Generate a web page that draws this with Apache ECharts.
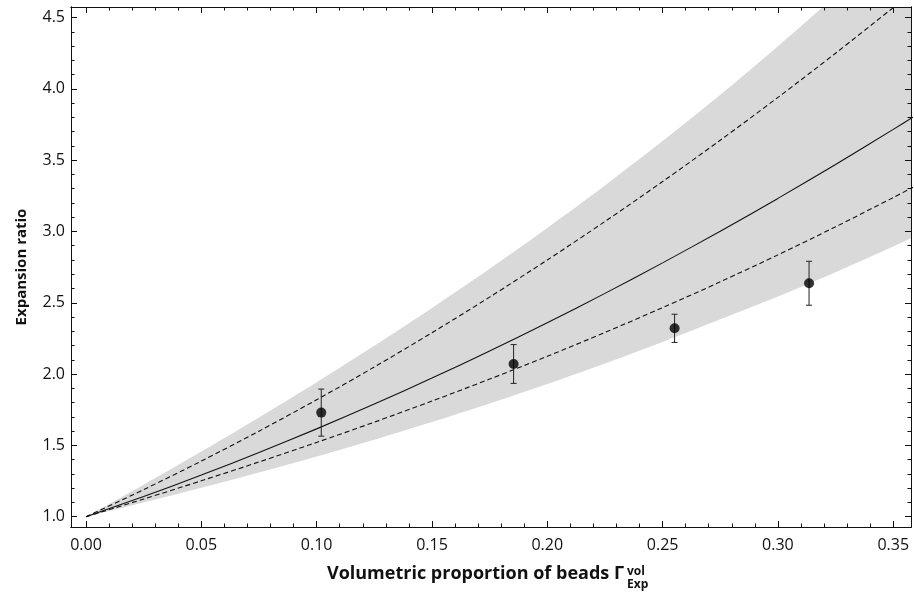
<!DOCTYPE html>
<html>
<head>
<meta charset="utf-8">
<script src="https://cdn.jsdelivr.net/npm/echarts@6/dist/echarts.min.js"></script>
<style>
  html, body { margin: 0; padding: 0; background: #fff; }
  #main { width: 914px; height: 598px; }
</style>
</head>
<body>
<div id="main"></div>
<script>
const xs = [0, 0.025, 0.05, 0.075, 0.1, 0.125, 0.15, 0.175, 0.2, 0.225, 0.25, 0.275, 0.3, 0.325, 0.35, 0.36];
// grey band (lower / upper edge)
const bandLow  = [1.0, 1.100, 1.203, 1.310, 1.422, 1.540, 1.664, 1.794, 1.931, 2.075, 2.226, 2.385, 2.545, 2.715, 2.895, 2.97];
const bandHigh = [1.0, 1.225, 1.457, 1.696, 1.943, 2.199, 2.464, 2.739, 3.025, 3.323, 3.634, 3.959, 4.299, 4.655, 5.028, 5.18];
// solid model curve and dashed curves
const fitMid   = [1.0, 1.142, 1.292, 1.450, 1.616, 1.790, 1.972, 2.162, 2.360, 2.566, 2.780, 3.002, 3.232, 3.470, 3.716, 3.816];
const dashHigh = [1.0, 1.19, 1.39, 1.60, 1.82, 2.05, 2.29, 2.54, 2.80, 3.07, 3.35, 3.64, 3.94, 4.25, 4.57, 4.70];
const dashLow  = [1.0, 1.124, 1.252, 1.384, 1.521, 1.663, 1.811, 1.965, 2.125, 2.292, 2.466, 2.647, 2.836, 3.033, 3.238, 3.322];
// measured points with error bars
const pointX   = [0.102, 0.1854, 0.2552, 0.3135];
const pointY   = [1.73, 2.071, 2.321, 2.637];
const pointErr = [0.165, 0.136, 0.099, 0.154];
// tick labels
const xTicks = [0, 0.05, 0.1, 0.15, 0.2, 0.25, 0.3, 0.35];
const yTicks = [1.0, 1.5, 2.0, 2.5, 3.0, 3.5, 4.0, 4.5];

const X_MIN = -0.0065, X_MAX = 0.3577;
const Y_MIN = 0.928, Y_MAX = 4.574;
const FONT = 'Open Sans';
const INK = '#111';

function minorList(a, b, n) {
  // tick positions every 1/n between a and b
  let out = [];
  for (let k = Math.round(a * n); k <= Math.round(b * n); k++) out.push(k / n);
  return out;
}
const xMinor = minorList(0, 0.35, 100);
const yMinor = minorList(1.0, 4.5, 10);

const pairs = arr => xs.map((x, i) => [x, arr[i]]);

function tickAxis(pos, ticks, len, labels, fmt) {
  let horiz = pos === 'bottom' || pos === 'top';
  return {
    type: 'value', position: pos, z: 10,
    min: horiz ? X_MIN : Y_MIN,
    max: horiz ? X_MAX : Y_MAX,
    axisLine: { show: true, onZero: false, lineStyle: { color: INK, width: 1 } },
    axisTick: { show: true, inside: true, length: len, customValues: ticks, lineStyle: { color: INK, width: 1 } },
    axisLabel: labels ? {
      show: true, customValues: ticks, formatter: fmt,
      fontFamily: FONT, fontSize: 16, color: INK, margin: horiz ? 10 : 6
    } : { show: false },
    splitLine: { show: false }
  };
}

let myChart = echarts.init(document.getElementById('main'));
let option = {
  animation: false,
  backgroundColor: '#fff',
  grid: { left: 71, right: 3, top: 7, bottom: 71 },
  xAxis: [
    tickAxis('bottom', xTicks, 6, true, v => v.toFixed(2)),
    tickAxis('bottom', xMinor, 3.5, false),
    tickAxis('top', xTicks, 6, false),
    tickAxis('top', xMinor, 3.5, false)
  ],
  yAxis: [
    Object.assign(tickAxis('left', yTicks, 6, true, v => v.toFixed(1)), {
      name: 'Expansion ratio', nameLocation: 'middle', nameGap: 42,
      nameTextStyle: { fontFamily: FONT, fontSize: 15, fontWeight: 'bold', color: INK }
    }),
    tickAxis('left', yMinor, 3.5, false),
    tickAxis('right', yTicks, 6, false),
    tickAxis('right', yMinor, 3.5, false)
  ],
  graphic: [
    {
      type: 'text', x: 624, y: 574,
      style: { text: 'Volumetric proportion of beads Γ', align: 'right', verticalAlign: 'middle',
        font: 'bold 18px "' + FONT + '"', fill: INK }
    },
    {
      type: 'text', x: 627, y: 572,
      style: { text: 'vol', align: 'left', verticalAlign: 'middle', font: 'bold 12px "' + FONT + '"', fill: INK }
    },
    {
      type: 'text', x: 627, y: 585,
      style: { text: 'Exp', align: 'left', verticalAlign: 'middle', font: 'bold 12px "' + FONT + '"', fill: INK }
    }
  ],
  series: [
    // grey fill down from the upper edge, then white fill down from the lower edge
    {
      type: 'line', data: pairs(bandHigh), smooth: 0.3, symbol: 'none',
      lineStyle: { width: 0, opacity: 0 },
      areaStyle: { color: '#d9d9d9', opacity: 1, origin: 'start' }, silent: true, z: 1
    },
    {
      type: 'line', data: pairs(bandLow), smooth: 0.3, symbol: 'none',
      lineStyle: { width: 0, opacity: 0 },
      areaStyle: { color: '#fff', opacity: 1, origin: 'start' }, silent: true, z: 1
    },
    {
      type: 'line', data: pairs(fitMid), smooth: 0.3, symbol: 'none',
      lineStyle: { color: INK, width: 1.1 }, z: 3
    },
    {
      type: 'line', data: pairs(dashHigh), smooth: 0.3, symbol: 'none',
      lineStyle: { color: INK, width: 1.1, type: [5, 3] }, z: 3
    },
    {
      type: 'line', data: pairs(dashLow), smooth: 0.3, symbol: 'none',
      lineStyle: { color: INK, width: 1.1, type: [5, 3] }, z: 3
    },
    {
      type: 'custom', z: 4,
      data: pointX.map((x, i) => [x, pointY[i], pointErr[i]]),
      encode: { x: 0, y: 1 },
      renderItem: function (params, api) {
        let x = api.value(0), y = api.value(1), e = api.value(2);
        let top = api.coord([x, y + e]);
        let bot = api.coord([x, y - e]);
        let st = { stroke: '#222', lineWidth: 1 };
        return {
          type: 'group',
          children: [
            { type: 'line', shape: { x1: top[0], y1: top[1], x2: bot[0], y2: bot[1] }, style: st },
            { type: 'line', shape: { x1: top[0] - 3, y1: top[1], x2: top[0] + 3, y2: top[1] }, style: st },
            { type: 'line', shape: { x1: bot[0] - 3, y1: bot[1], x2: bot[0] + 3, y2: bot[1] }, style: st }
          ]
        };
      }
    },
    {
      type: 'scatter', data: pointX.map((x, i) => [x, pointY[i]]),
      symbol: 'circle', symbolSize: 10, itemStyle: { color: '#000' }, z: 5
    }
  ]
};
myChart.setOption(option);
</script>
</body>
</html>
